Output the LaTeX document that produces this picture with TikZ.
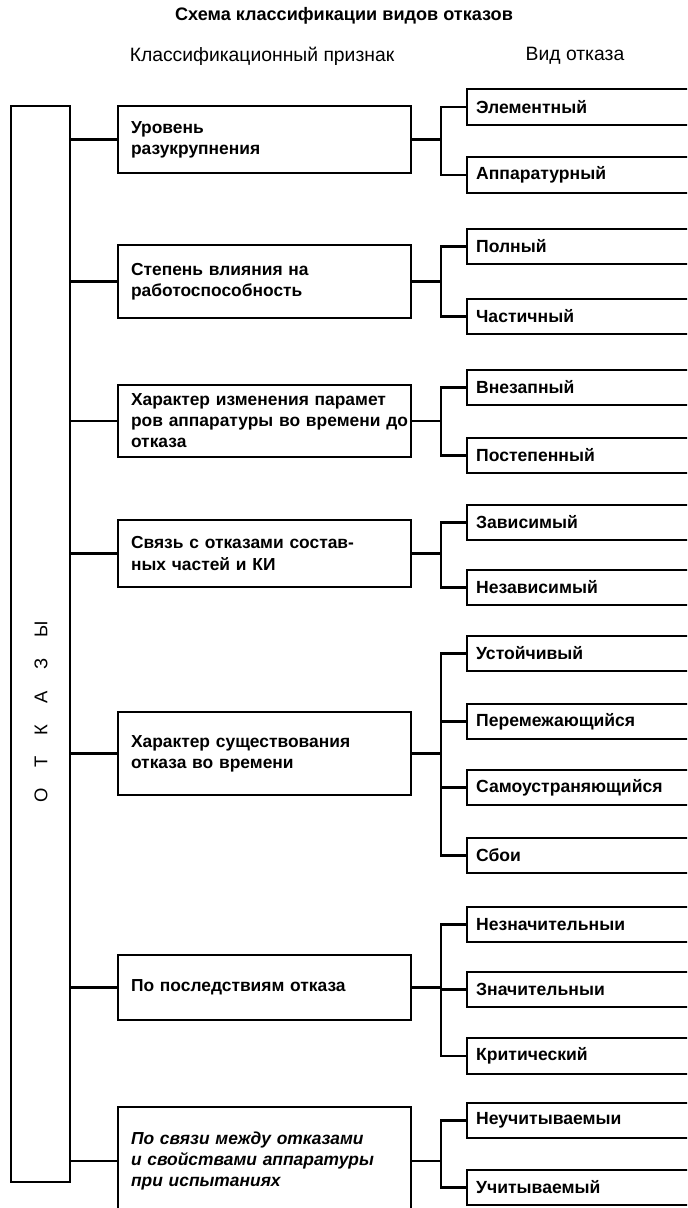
\documentclass[tikz,border=0pt]{standalone}
\usepackage{fontspec}
\setmainfont{Liberation Sans}
\usetikzlibrary{positioning}

\begin{document}
\begin{tikzpicture}[x=0.02cm,y=-0.02cm,line width=1.3pt,
	kopf/.style={font=\fontsize{11}{13}\selectfont},
	priznak/.style={draw,align=left,text width=5.34cm,inner xsep=0.26cm,font=\fontsize{9.9}{12}\selectfont\bfseries},
	vid/.style={draw,anchor=west,align=left,text width=4.44cm,inner xsep=0.18cm,minimum height=0.71cm,font=\fontsize{10}{12}\selectfont\bfseries}]

	\clip (0,0) rectangle (687,1208);

	\node[kopf,font=\fontsize{10.3}{12}\selectfont\bfseries] (titel) at (344,16) {Схема классификации видов отказов};
	\node[kopf] (kopf1) at (262,56) {Классификационный признак};
	\node[kopf] (kopf2) at (575,56) {Вид отказа};

	\node[draw,minimum width=1.18cm,minimum height=21.52cm] (otkazy) at (40.5,644) {};
	\node[rotate=90,font=\fontsize{10.5}{12}\selectfont] (otkazytxt) at (41,712) {О\hspace{12pt}Т\hspace{12pt}К\hspace{12pt}А\hspace{12pt}З\hspace{12pt}Ы};

	\node[priznak,minimum height=1.34cm] (p1) at (264.5,139.5) {Уровень\\разукрупнения};
	\node[priznak,minimum height=1.46cm] (p2) at (264.5,281.5) {Степень влияния на\\работоспособность};
	\node[priznak,minimum height=1.44cm] (p3) at (264.5,421) {Характер изменения парамет\\\mbox{ров аппаратуры во времени до}\\отказа};
	\node[priznak,minimum height=1.34cm] (p4) at (264.5,553.5) {Связь с отказами состав-\\ных частей и КИ};
	\node[priznak,minimum height=1.66cm] (p5) at (264.5,753.5) {Характер существования\\отказа во времени};
	\node[priznak,minimum height=1.30cm] (p6) at (264.5,987.5) {По последствиям отказа};
	\node[priznak,minimum height=2.16cm,font=\fontsize{9.9}{12}\selectfont\bfseries\itshape] (p7) at (264.5,1161) {По связи между отказами\\и свойствами аппаратуры\\при испытаниях};

	\node[vid] (v1a) at (466,107) {Элементный};
	\node[vid] (v1b) at (466,175) {Аппаратурный};
	\node[vid] (v2a) at (466,246.5) {Полный};
	\node[vid] (v2b) at (466,316.5) {Частичный};
	\node[vid] (v3a) at (466,387.5) {Внезапный};
	\node[vid] (v3b) at (466,455.5) {Постепенный};
	\node[vid] (v4a) at (466,522.5) {Зависимый};
	\node[vid] (v4b) at (466,587.5) {Независимый};
	\node[vid] (v5a) at (466,653.5) {Устойчивый};
	\node[vid] (v5b) at (466,721.5) {Перемежающийся};
	\node[vid] (v5c) at (466,787.5) {Самоустраняющийся};
	\node[vid] (v5d) at (466,855.5) {Сбои};
	\node[vid] (v6a) at (466,924.5) {Незначительныи};
	\node[vid] (v6b) at (466,989.5) {Значительныи};
	\node[vid] (v6c) at (466,1056) {Критический};
	\node[vid] (v7a) at (466,1120.5) {Неучитываемыи};
	\node[vid] (v7b) at (466,1187.5) {Учитываемый};

	\draw (otkazy.east|-p1.west)--(p1.west) (otkazy.east|-p2.west)--(p2.west)
		(otkazy.east|-p3.west)--(p3.west) (otkazy.east|-p4.west)--(p4.west)
		(otkazy.east|-p5.west)--(p5.west) (otkazy.east|-p6.west)--(p6.west)
		(otkazy.east|-p7.west)--(p7.west);

	\draw (p1.east)--++(29,0)coordinate(uzel1);
	\draw (v1a.west)-|(uzel1)|-(v1b.west);
	\draw (p2.east)--++(29,0)coordinate(uzel2);
	\draw (v2a.west)-|(uzel2)|-(v2b.west);
	\draw (p3.east)--++(29,0)coordinate(uzel3);
	\draw (v3a.west)-|(uzel3)|-(v3b.west);
	\draw (p4.east)--++(29,0)coordinate(uzel4);
	\draw (v4a.west)-|(uzel4)|-(v4b.west);
	\draw (p5.east)--++(29,0)coordinate(uzel5);
	\draw (v5a.west)-|(uzel5)|-(v5d.west);
	\draw (v5b.west)--(v5b.west-|uzel5) (v5c.west)--(v5c.west-|uzel5);
	\draw (p6.east)--++(29,0)coordinate(uzel6);
	\draw (v6a.west)-|(uzel6)|-(v6c.west);
	\draw (v6b.west)--(v6b.west-|uzel6);
	\draw (p7.east)--++(29,0)coordinate(uzel7);
	\draw (v7a.west)-|(uzel7)|-(v7b.west);
\end{tikzpicture}
\end{document}
